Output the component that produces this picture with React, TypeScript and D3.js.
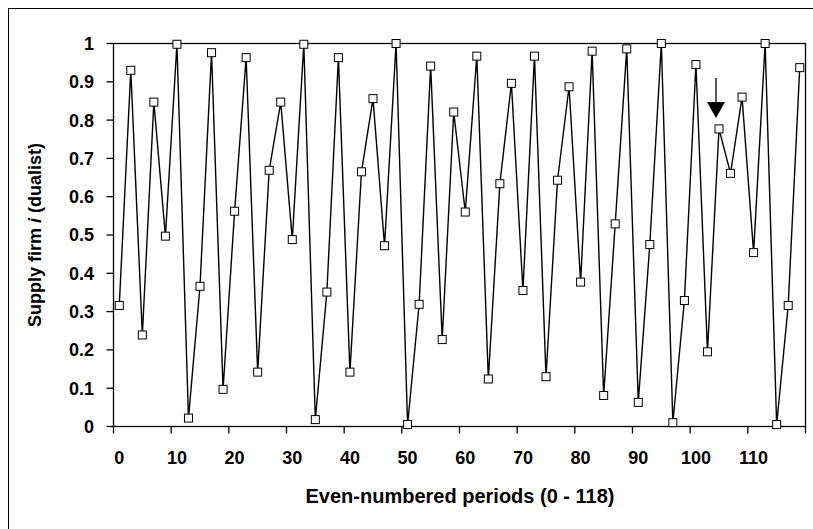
import React from "react";
import * as d3 from "d3";

// even-numbered periods 0..118 (categories)
const periods: number[] = d3.range(0, 120, 2);

// supply of firm i (dualist)
const supply: number[] = [
  0.316, 0.930, 0.239, 0.847, 0.497, 0.998, 0.022, 0.366, 0.976, 0.097,
  0.562, 0.963, 0.142, 0.669, 0.847, 0.488, 0.998, 0.018, 0.351, 0.963,
  0.142, 0.665, 0.856, 0.472, 1.0, 0.005, 0.319, 0.941, 0.227, 0.821,
  0.560, 0.967, 0.124, 0.634, 0.896, 0.355, 0.967, 0.130, 0.643, 0.887,
  0.377, 0.980, 0.081, 0.529, 0.986, 0.063, 0.475, 1.0, 0.010, 0.329,
  0.945, 0.195, 0.777, 0.661, 0.860, 0.454, 1.0, 0.005, 0.316, 0.937,
];

const xTickLabels: number[] = [0, 10, 20, 30, 40, 50, 60, 70, 80, 90, 100, 110];
const yTicks: number[] = [0, 0.1, 0.2, 0.3, 0.4, 0.5, 0.6, 0.7, 0.8, 0.9, 1];
const arrowPeriod = 104;

const W = 813;
const H = 529;
const FONT = "'Liberation Sans', Arial, sans-serif";

export default function App() {
  const left = 113.5;
  const right = 805.5;
  const top = 43.5;
  const bottom = 426.5;

  const x = d3.scaleBand<number>().domain(periods).range([left, right]).padding(0);
  const y = d3.scaleLinear().domain([0, 1]).range([bottom, top]);
  const cx = (p: number) => (x(p) as number) + x.bandwidth() / 2;

  const pts = periods.map((p, i) => ({ p, v: supply[i] }));
  const line = d3
    .line<{ p: number; v: number }>()
    .x((d) => cx(d.p))
    .y((d) => y(d.v));

  // tick marks every 5 categories, on category boundaries
  const tickXs: number[] = [];
  for (let i = 0; i < periods.length; i += 5) tickXs.push(x(periods[i]) as number);
  tickXs.push(right);

  const arrowIdx = periods.indexOf(arrowPeriod);
  const ax = cx(arrowPeriod) - 3;
  const tipY = y(supply[arrowIdx]) - 11;

  return (
    <svg
      width={W}
      height={H}
      style={{ position: "absolute", left: 0, top: 0, background: "#fff" }}
      fontFamily={FONT}
    >
      {/* outer chart border */}
      <rect x={8.5} y={8.5} width={W + 20} height={H + 20} fill="none" stroke="#000" strokeWidth={1} />

      {/* plot frame */}
      <rect x={left} y={top} width={right - left} height={bottom - top} fill="none" stroke="#000" strokeWidth={1.3} />

      {/* y ticks + labels */}
      {yTicks.map((t) => (
        <g key={t}>
          <line x1={left - 7} x2={left} y1={y(t)} y2={y(t)} stroke="#000" strokeWidth={1.3} />
          <text
            x={94}
            y={y(t)}
            dy="0.36em"
            textAnchor="end"
            fontSize={18}
            fontWeight="bold"
          >
            {t === 0 || t === 1 ? String(t) : t.toFixed(1)}
          </text>
        </g>
      ))}

      {/* x ticks */}
      {tickXs.map((tx, i) => (
        <line key={i} x1={tx} x2={tx} y1={bottom} y2={bottom + 7} stroke="#000" strokeWidth={1.3} />
      ))}
      {xTickLabels.map((l) => (
        <text key={l} x={cx(l)} y={464} textAnchor="middle" fontSize={18} fontWeight="bold">
          {l}
        </text>
      ))}

      {/* axis titles */}
      <text x={460} y={503} textAnchor="middle" fontSize={20} fontWeight="bold">
        Even-numbered periods (0 - 118)
      </text>
      <text
        transform={`translate(41,${(top + bottom) / 2}) rotate(-90)`}
        textAnchor="middle"
        fontSize={18}
        fontWeight="bold"
      >
        Supply firm <tspan fontStyle="italic">i</tspan> (dualist)
      </text>

      {/* series */}
      <path d={line(pts) as string} fill="none" stroke="#000" strokeWidth={1.4} />
      {pts.map((d) => (
        <rect
          key={d.p}
          x={cx(d.p) - 4}
          y={y(d.v) - 4}
          width={8}
          height={8}
          fill="#fff"
          stroke="#000"
          strokeWidth={1}
        />
      ))}

      {/* arrow annotation */}
      <line x1={ax} x2={ax} y1={tipY - 40} y2={tipY - 14} stroke="#000" strokeWidth={1.3} />
      <path d={`M${ax - 9},${tipY - 16}L${ax + 9},${tipY - 16}L${ax},${tipY}Z`} fill="#000" />
    </svg>
  );
}
